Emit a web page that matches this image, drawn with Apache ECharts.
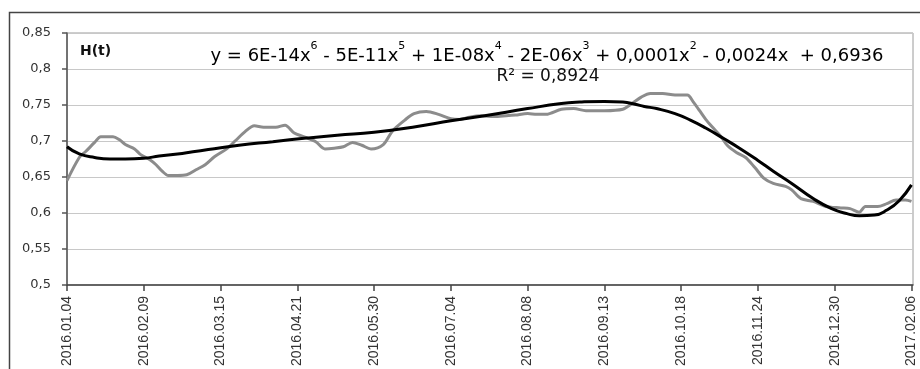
<!DOCTYPE html>
<html>
<head>
<meta charset="utf-8">
<script src="https://cdn.jsdelivr.net/npm/echarts@6/dist/echarts.min.js"></script>
<style>
html,body{margin:0;padding:0;background:#fff;}
#chart{width:920px;height:369px;}
</style>
</head>
<body>
<div id="chart"></div>
<script>
// Tick labels (every 25 trading days)
const tickLabels = ['2016.01.04','2016.02.09','2016.03.15','2016.04.21','2016.05.30','2016.07.04',
  '2016.08.08','2016.09.13','2016.10.18','2016.11.24','2016.12.30','2017.02.06'];
const tickStep = 25;

// H(t) series: trading-day index and value
const hIdx = [0,4,6,9,11,15,17,19,22,24,27,29,31,33,36,39,42,45,48,52,55,58,61,64,68,71,74,77,81,84,87,90,93,96,99,103,106,110,113,117,121,125,128,131,135,139,143,146,150,153,156,161,165,169,175,181,184,187,190,194,198,202,204,206,208,210,213,215,218,221,224,227,230,234,236,239,243,247,252,255,258,260,264,267,270,273,275];
const hVal = [0.645,0.677,0.685,0.698,0.706,0.706,0.702,0.695,0.689,0.681,0.674,0.667,0.658,0.652,0.652,0.653,0.660,0.667,0.678,0.689,0.701,0.713,0.721,0.719,0.719,0.722,0.711,0.706,0.699,0.689,0.690,0.692,0.698,0.694,0.689,0.695,0.714,0.729,0.738,0.741,0.737,0.731,0.730,0.733,0.735,0.734,0.735,0.736,0.738,0.737,0.737,0.744,0.745,0.742,0.742,0.744,0.752,0.761,0.766,0.766,0.764,0.764,0.754,0.742,0.730,0.720,0.706,0.694,0.684,0.677,0.663,0.648,0.641,0.637,0.632,0.620,0.616,0.609,0.607,0.606,0.601,0.609,0.609,0.613,0.618,0.618,0.616];

// Polynomial trend line
const trendIdx = [0,4,9,14,19,25,30,36,41,46,56,67,78,88,100,114,125,136,150,161,167,175,181,185,188,192,198,203,208,214,219,225,230,236,243,249,254,258,263,267,271,275];
const trendVal = [0.692,0.682,0.677,0.675,0.675,0.676,0.679,0.682,0.685,0.688,0.694,0.699,0.704,0.708,0.712,0.720,0.728,0.735,0.745,0.752,0.754,0.755,0.754,0.751,0.748,0.745,0.738,0.729,0.718,0.703,0.690,0.673,0.658,0.641,0.620,0.606,0.599,0.596,0.597,0.604,0.617,0.639];

const seriesName = 'H(t)';
const equationParts = [
  ['y = 6E-14x','6'],[' - 5E-11x','5'],[' + 1E-08x','4'],[' - 2E-06x','3'],[' + 0,0001x','2'],[' - 0,0024x  + 0,6936','']
];
const r2Text = 'R² = 0,8924';

const eqRich = equationParts.map(p => '{m|' + p[0] + '}' + (p[1] ? '{s|' + p[1] + '}' : '')).join('');

const chart = echarts.init(document.getElementById('chart'));
chart.setOption({
  animation: false,
  backgroundColor: '#fff',
  title: {
    text: seriesName, left: 80, top: 44, padding: 0,
    textStyle: {fontFamily: 'DejaVu Sans', fontWeight: 'bold', fontSize: 14, color: '#111'}
  },
  grid: {left: 67, right: 7, top: 33, bottom: 84, show: true, borderColor: '#9a9a9a', borderWidth: 1},
  xAxis: {
    type: 'value', min: 0, max: 275.5, interval: tickStep,
    axisLine: {show: true, onZero: false, lineStyle: {color: '#444', width: 1.5}},
    axisTick: {show: true, length: 6, lineStyle: {color: '#444', width: 1.5}},
    splitLine: {show: false},
    axisLabel: {
      rotate: 90, margin: 11, fontSize: 14, fontFamily: 'Liberation Sans', color: '#333',
      showMaxLabel: false,
      formatter: v => {
        const k = v / tickStep;
        return Math.abs(k - Math.round(k)) < 1e-6 ? (tickLabels[Math.round(k)] || '') : '';
      }
    }
  },
  yAxis: {
    type: 'value', min: 0.5, max: 0.85, interval: 0.05,
    axisLine: {show: true, lineStyle: {color: '#555', width: 1.5}},
    axisTick: {show: true, length: 5, lineStyle: {color: '#555', width: 1.5}},
    splitLine: {show: true, lineStyle: {color: '#c8c8c8', width: 1}},
    axisLabel: {
      margin: 16, fontSize: 13, fontFamily: 'DejaVu Sans', color: '#333',
      formatter: v => String(+v.toFixed(2)).replace('.', ',')
    }
  },
  graphic: [
    {type: 'rect', silent: true, shape: {x: 9.5, y: 12.5, width: 930, height: 400},
     style: {fill: 'none', stroke: '#444', lineWidth: 1.5}, z: 100},
    {type: 'text', silent: true, x: 547, y: 56, z: 100,
     style: {text: eqRich, align: 'center', verticalAlign: 'middle',
       rich: {
         m: {fontFamily: 'DejaVu Sans', fontSize: 18, color: '#111', lineHeight: 30},
         s: {fontFamily: 'DejaVu Sans', fontSize: 11, color: '#111', verticalAlign: 'top', lineHeight: 14}
       }}},
    {type: 'text', silent: true, x: 548, y: 77, z: 100,
     style: {text: r2Text, align: 'center', verticalAlign: 'middle',
       fontFamily: 'DejaVu Sans', fontSize: 17, fill: '#111'}}
  ],
  series: [
    {name: seriesName, type: 'line', showSymbol: false, smooth: 0.3,
     data: hIdx.map((x, i) => [x, hVal[i]]),
     lineStyle: {color: '#8c8c8c', width: 3}, z: 2},
    {name: 'trend', type: 'line', showSymbol: false, smooth: 0.5,
     data: trendIdx.map((x, i) => [x, trendVal[i]]),
     lineStyle: {color: '#000', width: 3}, z: 3}
  ]
});
</script>
</body>
</html>
